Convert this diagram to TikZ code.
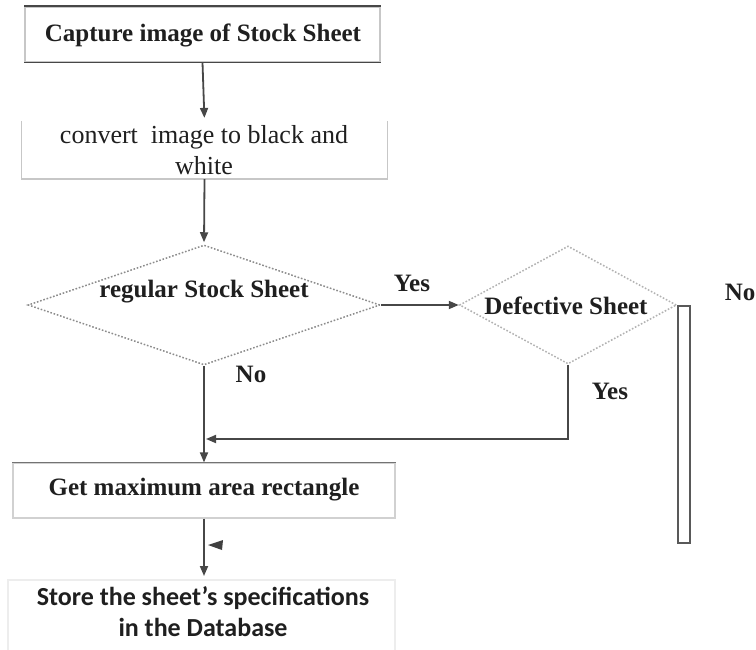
\documentclass[tikz,border=0pt]{standalone}
\usepackage{fontspec}
\setmainfont{Liberation Serif}
\newfontfamily\calfont{Carlito}
\usetikzlibrary{arrows.meta,shapes.geometric}
\begin{document}
\begin{tikzpicture}[x=1pt,y=-1pt,
  flow/.style={draw=black!72, line width=1.8pt, -{Triangle[length=10pt,width=8pt]}},
  lbl/.style={font=\fontsize{25}{28}\selectfont\bfseries, text=black!88, inner sep=0pt},
  txt/.style={font=\fontsize{26}{31}\selectfont, text=black!88, inner sep=0pt, align=center},
  box/.style={draw=black!22, line width=1.2pt, inner sep=0pt, fill=white},
  decision/.style={diamond, draw=black!45, dash pattern=on 1.6pt off 1.8pt, line width=1.5pt,
    inner sep=0pt, fill=white}]
\useasboundingbox (0,0) rectangle (756,650);

% process boxes
\node[box, minimum width=355pt, minimum height=55pt] (capture) at (202.5,34.5) {};
\draw[black!72, line width=1.8pt] (capture.north west) -- (capture.north east)
  (capture.south west) -- (capture.south east);
\node[lbl] (capturetext) at (203,35) {Capture image of Stock Sheet};

% open-topped box: only sides and bottom are drawn
\node[box, draw=none, minimum width=365pt, minimum height=57pt] (convert) at (204.5,150) {};
\draw[black!22, line width=1.2pt] (convert.north west) -- (convert.south west)
  -- (convert.south east) -- (convert.north east);
\node[txt] (converttext) at (204,150) {convert\ \ image to black and\\ white};

% decisions
\node[decision, minimum width=352pt, minimum height=120pt] (regular) at (204,305) {};
\node[lbl] (regulartext) at (204,292) {regular Stock Sheet};

\node[decision, draw=black!30, minimum width=217pt, minimum height=118pt] (defective) at (568,305) {};
\node[lbl] (defectivetext) at (566,306) {Defective Sheet};

\node[box, draw=black!18, minimum width=382pt, minimum height=55pt] (maxrect) at (204,490.5) {};
\draw[black!55, line width=1.2pt] (maxrect.north west) -- (maxrect.north east);
\node[lbl] (maxrecttext) at (204,490) {Get maximum area rectangle};

\node[box, draw=black!7, minimum width=387pt, minimum height=80pt] (store) at (201.5,620) {};
\node[font=\calfont\fontsize{26}{31}\selectfont\bfseries, text=black!88, align=center, inner sep=0pt]
  (storetext) at (203,612) {Store the sheet’s specifications\\ in the Database};

% tall bar on the right
\node[draw=black!65, line width=1.2pt, fill=white, minimum width=12pt, minimum height=237pt,
  inner sep=0pt] (bar) at (684,424.5) {};

% connectors
\draw[flow, shorten >=3pt] (capture.south) -- (convert.north);
\draw[flow, shorten >=2pt] (convert.south) -- (regular.north);
\draw[flow] (regular.east) -- (defective.west);
\draw[flow] (regular.south) -- (maxrect.north);
\coordinate (merge) at (206,439);
\draw[flow] (defective.south) |- (merge);
\coordinate (storetop) at (204,576);
\draw[flow] (maxrect.south) -- (storetop);
\fill[black!75] (208,545) -- (223,540) -- (222,550) -- cycle;

% branch labels
\node[lbl] (yes1) at (412,283) {Yes};
\node[lbl] (no1) at (251,374) {No};
\node[lbl] (yes2) at (610,391) {Yes};
\node[lbl, anchor=east] (no2) at (755.5,292) {No};
\end{tikzpicture}
\end{document}
